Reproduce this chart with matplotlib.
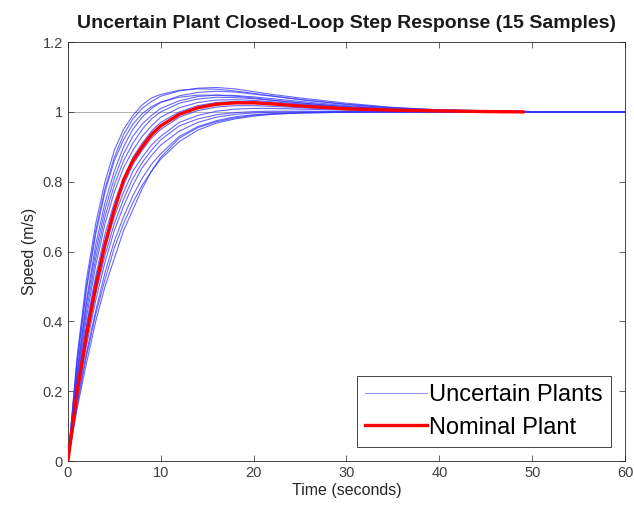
import matplotlib
matplotlib.use("Agg")
import matplotlib.pyplot as plt

plt.rcParams['font.family'] = ['Liberation Sans', 'DejaVu Sans']

# sample times (s)
t = [0, 1, 2, 3, 4, 5, 6, 7, 8, 9, 10, 12, 14, 16, 18, 20, 22, 25, 30, 35, 40, 50, 60]

# 15 uncertain plant step responses
uncertain = [
    [0, .30, .52, .68, .80, .89, .95, .99, 1.02, 1.04, 1.05, 1.062, 1.066, 1.065, 1.06, 1.053, 1.046, 1.036, 1.022, 1.012, 1.006, 1.001, 1.0],
    [0, .29, .50, .66, .78, .87, .935, .98, 1.01, 1.03, 1.045, 1.06, 1.068, 1.07, 1.066, 1.058, 1.05, 1.04, 1.025, 1.013, 1.006, 1.001, 1.0],
    [0, .28, .49, .65, .77, .86, .92, .965, .995, 1.015, 1.028, 1.042, 1.048, 1.048, 1.045, 1.04, 1.034, 1.026, 1.015, 1.008, 1.004, 1.0, 1.0],
    [0, .26, .46, .62, .74, .83, .90, .95, .985, 1.01, 1.027, 1.046, 1.056, 1.059, 1.057, 1.051, 1.045, 1.035, 1.021, 1.011, 1.005, 1.001, 1.0],
    [0, .25, .45, .60, .72, .81, .88, .93, .965, .99, 1.01, 1.032, 1.044, 1.048, 1.047, 1.043, 1.038, 1.03, 1.018, 1.009, 1.004, 1.001, 1.0],
    [0, .24, .43, .58, .70, .79, .86, .91, .95, .98, 1.0, 1.025, 1.037, 1.042, 1.041, 1.038, 1.033, 1.026, 1.015, 1.008, 1.004, 1.0, 1.0],
    [0, .23, .41, .56, .68, .77, .84, .89, .93, .96, .985, 1.012, 1.027, 1.034, 1.035, 1.033, 1.029, 1.023, 1.013, 1.007, 1.003, 1.0, 1.0],
    [0, .22, .39, .53, .65, .74, .81, .87, .91, .945, .97, 1.0, 1.018, 1.027, 1.03, 1.029, 1.026, 1.021, 1.012, 1.006, 1.003, 1.0, 1.0],
    [0, .21, .38, .52, .63, .72, .79, .85, .89, .925, .95, .985, 1.004, 1.014, 1.018, 1.018, 1.016, 1.012, 1.007, 1.004, 1.002, 1.0, 1.0],
    [0, .20, .36, .50, .61, .70, .77, .83, .87, .905, .93, .97, .99, 1.002, 1.008, 1.01, 1.01, 1.008, 1.005, 1.002, 1.001, 1.0, 1.0],
    [0, .19, .35, .48, .59, .68, .75, .81, .855, .89, .92, .96, .98, .992, .998, 1.001, 1.002, 1.002, 1.001, 1.0, 1.0, 1.0, 1.0],
    [0, .18, .33, .46, .57, .66, .73, .79, .84, .875, .905, .945, .97, .985, .993, .997, .999, 1.0, 1.0, 1.0, 1.0, 1.0, 1.0],
    [0, .17, .31, .43, .54, .63, .70, .76, .81, .85, .88, .93, .958, .975, .986, .992, .995, .998, 1.0, 1.0, 1.0, 1.0, 1.0],
    [0, .16, .30, .42, .52, .61, .68, .74, .79, .83, .865, .915, .948, .968, .98, .988, .993, .997, .999, 1.0, 1.0, 1.0, 1.0],
    [0, .15, .28, .40, .50, .58, .66, .72, .78, .83, .87, .925, .955, .972, .983, .99, .994, .997, .999, 1.0, 1.0, 1.0, 1.0],
]

# nominal plant
t_nom = [0, 1, 2, 3, 4, 5, 6, 7, 8, 9, 10, 12, 14, 16, 18, 20, 22, 25, 30, 35, 40, 45, 49]
y_nom = [0, .20, .36, .50, .62, .72, .805, .86, .90, .935, .96, .993, 1.012, 1.022, 1.026, 1.026, 1.023, 1.017, 1.009, 1.005, 1.003, 1.001, 1.0]

fig = plt.figure(figsize=(6.34, 5.13), dpi=100)
ax = fig.add_axes([0.107, 0.101, 0.879, 0.817])

ax.axhline(1.0, color='#a0a0a0', lw=0.6, zorder=1)
for i, y in enumerate(uncertain):
    ax.plot(t, y, color='#3535ff', lw=0.8, alpha=0.75,
            label='Uncertain Plants' if i == 0 else None, zorder=2)
ax.plot(t_nom, y_nom, color='#ff0000', lw=2.4, label='Nominal Plant', zorder=3)

ax.set_xlim(0, 60)
ax.set_ylim(0, 1.2)
ax.set_xticks([0, 10, 20, 30, 40, 50, 60])
ax.set_yticks([0, 0.2, 0.4, 0.6, 0.8, 1.0, 1.2])
ax.set_yticklabels(['0', '0.2', '0.4', '0.6', '0.8', '1', '1.2'])
ax.tick_params(direction='in', top=True, right=True, length=4, width=0.5,
               colors='#262626', labelsize=10.5, labelcolor='#404040')
for s in ax.spines.values():
    s.set_color('#262626')
    s.set_linewidth(0.6)

ax.set_title('Uncertain Plant Closed-Loop Step Response (15 Samples)',
             fontsize=14, fontweight='bold', color='#1a1a1a', pad=10)
ax.set_xlabel('Time (seconds)', fontsize=11.5, color='#262626', labelpad=2)
ax.set_ylabel('Speed (m/s)', fontsize=11.5, color='#262626', labelpad=4)

leg = ax.legend(loc='lower right', fontsize=17, fancybox=False, framealpha=1,
                edgecolor='#262626', handlelength=2.6, handletextpad=0.1,
                borderpad=0.35, labelspacing=0.45, borderaxespad=0.6)
leg.get_frame().set_linewidth(0.6)
leg.get_lines()[0].set_color('#7070e8')

fig.savefig('out.png', dpi=100)
